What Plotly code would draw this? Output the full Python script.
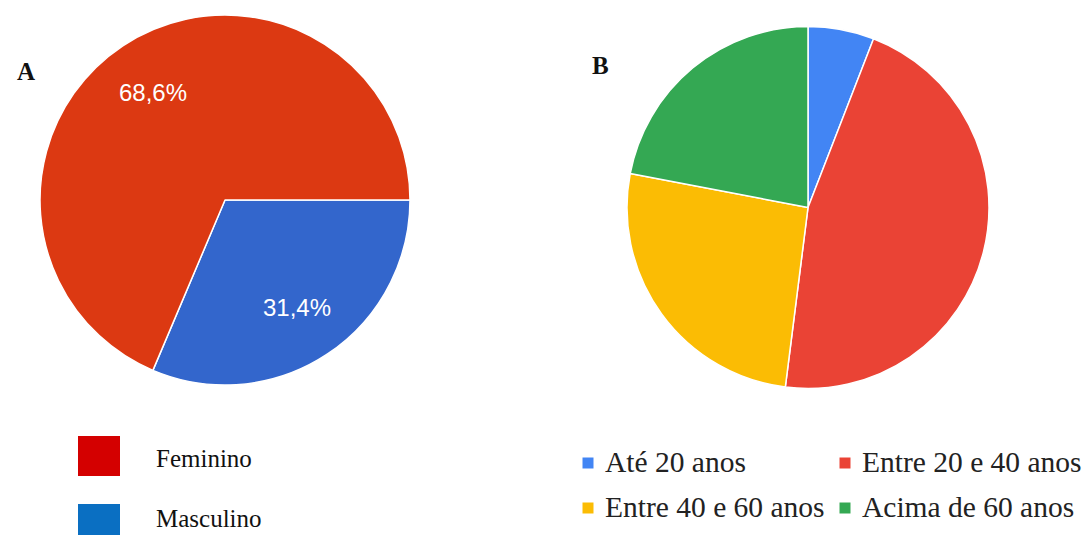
import math
import plotly.graph_objects as go

W, H = 1089, 535

# Panel A: sex distribution (counts)
sexo_labels = ["Feminino", "Masculino"]
sexo_counts = [35, 16]
sexo_pie_colors = ["#dc3912", "#3366cc"]
sexo_legend_colors = ["#d40000", "#0a6fc2"]

# Panel B: age distribution (percent)
idade_labels = ["Até 20 anos", "Entre 20 e 40 anos", "Entre 40 e 60 anos", "Acima de 60 anos"]
idade_values = [5.9, 46.1, 26.0, 22.0]
idade_colors = ["#4285f4", "#ea4335", "#fbbc04", "#34a853"]


def px_x(x):
    return x / W


def px_y(y):
    return 1 - y / H


# Pie A geometry (pixels)
A_CX, A_CY, A_R = 225, 200, 185
# Pie B geometry (pixels)
B_CX, B_CY, B_R = 808, 207.5, 181

fig = go.Figure()

# Pie A is drawn clockwise from 3 o'clock, Masculino first
fig.add_trace(go.Pie(
    labels=sexo_labels[::-1],
    values=sexo_counts[::-1],
    sort=False,
    direction="clockwise",
    rotation=90,
    marker=dict(colors=sexo_pie_colors[::-1], line=dict(color="white", width=1.5)),
    textinfo="none",
    domain=dict(x=[px_x(A_CX - A_R), px_x(A_CX + A_R)],
                y=[px_y(A_CY + A_R), px_y(A_CY - A_R)]),
    showlegend=False,
    hoverinfo="label+percent",
))

fig.add_trace(go.Pie(
    labels=idade_labels,
    values=idade_values,
    sort=False,
    direction="clockwise",
    rotation=0,
    marker=dict(colors=idade_colors, line=dict(color="white", width=1.5)),
    textinfo="none",
    domain=dict(x=[px_x(B_CX - B_R), px_x(B_CX + B_R)],
                y=[px_y(B_CY + B_R), px_y(B_CY - B_R)]),
    showlegend=False,
    hoverinfo="label+percent",
))

shapes = []
annotations = []

# Percent labels for pie A, placed on each slice's bisector at 0.7 r
total = sum(sexo_counts)
start_deg = 0.0  # 3 o'clock, angles grow clockwise on screen
for count in sexo_counts[::-1]:
    frac = count / total
    mid = math.radians(start_deg + frac * 360 / 2)
    lx = A_CX + 0.7 * A_R * math.cos(mid)
    ly = A_CY + 0.7 * A_R * math.sin(mid)
    annotations.append(dict(
        x=px_x(lx), y=px_y(ly), xref="paper", yref="paper",
        text=f"{frac * 100:.1f}%".replace(".", ","), showarrow=False,
        xanchor="center", yanchor="middle",
        font=dict(family="Liberation Sans, Arial", size=24, color="white"),
    ))
    start_deg += frac * 360

# Panel letters
for letter, (lx, ly) in zip(["A", "B"], [(26, 71), (600, 65)]):
    annotations.append(dict(
        x=px_x(lx), y=px_y(ly), xref="paper", yref="paper",
        text=f"<b>{letter}</b>", showarrow=False,
        xanchor="center", yanchor="middle",
        font=dict(family="Liberation Serif, Times New Roman", size=25, color="#111"),
    ))

# Legend for panel A: large swatches
legend_a_rows = [456, 524]
legend_a_text_rows = [458, 518]
for label, color, cy, ty in zip(sexo_labels, sexo_legend_colors, legend_a_rows, legend_a_text_rows):
    shapes.append(dict(
        type="rect", xref="paper", yref="paper",
        x0=px_x(78), x1=px_x(120), y0=px_y(cy + 20), y1=px_y(cy - 20),
        fillcolor=color, line=dict(width=0),
    ))
    annotations.append(dict(
        x=px_x(154), y=px_y(ty), xref="paper", yref="paper",
        text=label, showarrow=False, xanchor="left", yanchor="middle",
        font=dict(family="Liberation Serif, Times New Roman", size=25, color="#111"),
    ))

# Legend for panel B: two columns, two rows
col_x = [588, 845]
row_y = [463, 508]
for i, (label, color) in enumerate(zip(idade_labels, idade_colors)):
    cx = col_x[i % 2]
    cy = row_y[i // 2]
    shapes.append(dict(
        type="rect", xref="paper", yref="paper",
        x0=px_x(cx - 5.5), x1=px_x(cx + 5.5), y0=px_y(cy + 5.5), y1=px_y(cy - 5.5),
        fillcolor=color, line=dict(width=0),
    ))
    annotations.append(dict(
        x=px_x(cx + 15), y=px_y(cy - 1), xref="paper", yref="paper",
        text=label, showarrow=False, xanchor="left", yanchor="middle",
        font=dict(family="Liberation Serif, Times New Roman", size=29.5, color="#222"),
    ))

fig.update_layout(
    width=W, height=H,
    margin=dict(l=0, r=0, t=0, b=0),
    paper_bgcolor="white",
    plot_bgcolor="white",
    shapes=shapes,
    annotations=annotations,
)

fig.write_html("out.html")
